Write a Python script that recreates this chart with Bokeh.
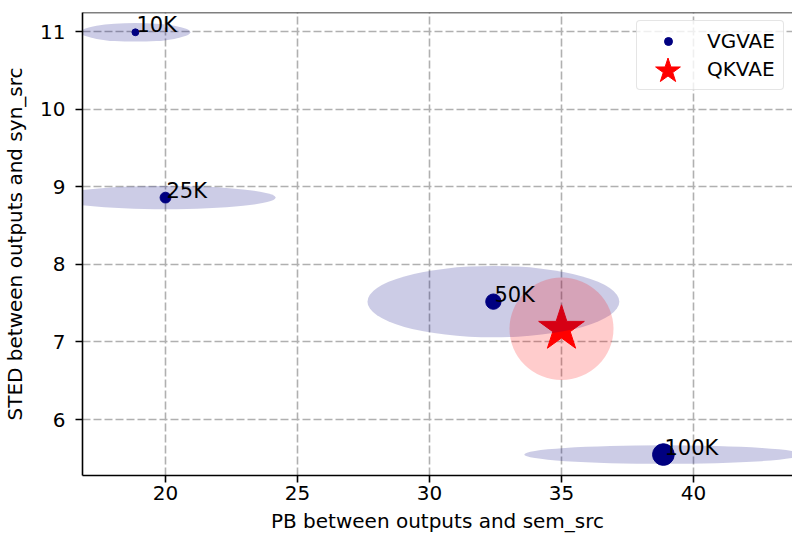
import numpy as np
from bokeh.plotting import figure
from bokeh.models import (Range1d, FixedTicker, Span, Legend, LegendItem,
                          ColumnDataSource)
from bokeh.core.properties import value
from bokeh.embed import file_html
from bokeh.resources import INLINE

# ---- data ----
labels = ["10K", "25K", "50K", "100K"]
train_k = [10, 25, 50, 100]
vg_pb = [18.86, 20.0, 32.42, 38.86]
vg_sted = [10.99, 8.86, 7.52, 5.55]
vg_pb_std = [2.08, 4.17, 4.77, 5.27]
vg_sted_std = [0.12, 0.15, 0.46, 0.12]

qk_pb = [35.0]
qk_sted = [7.17]
qk_pb_std = [1.97]
qk_sted_std = [0.66]

x_ticks = [20, 25, 30, 35, 40]
y_ticks = [6, 7, 8, 9, 10, 11]

FONT = "DejaVu Sans"
FS = "20px"

p = figure(width=792, height=538, output_backend="svg", toolbar_location=None,
           x_range=Range1d(16.856, 43.75), y_range=Range1d(5.28, 11.245),
           min_border_left=82, min_border_right=0, min_border_top=12,
           min_border_bottom=63)
p.outline_line_color = None
p.background_fill_color = "white"
p.border_fill_color = "white"

# grid
for g in (p.xgrid, p.ygrid):
    g.grid_line_color = "#b0b0b0"
    g.grid_line_dash = "8 3"
    g.grid_line_width = 1.6
p.xaxis.ticker = FixedTicker(ticks=x_ticks)
p.yaxis.ticker = FixedTicker(ticks=y_ticks)

for ax in (p.xaxis, p.yaxis):
    ax.axis_line_color = "black"
    ax.axis_line_width = 1.6
    ax.major_tick_line_color = "black"
    ax.major_tick_line_width = 1.6
    ax.major_tick_out = 7
    ax.major_tick_in = 0
    ax.minor_tick_line_color = None
    ax.major_label_text_font = FONT
    ax.major_label_text_font_size = FS
    ax.major_label_text_color = "black"
    ax.axis_label_text_font = FONT
    ax.axis_label_text_font_size = FS
    ax.axis_label_text_font_style = "normal"
    ax.axis_label_text_color = "black"

p.xaxis.axis_label = "PB between outputs and sem_src"
p.yaxis.axis_label = "STED between outputs and syn_src"
p.xaxis.major_label_standoff = 3
p.xaxis.axis_label_standoff = 6
p.yaxis.major_label_standoff = 10
p.yaxis.axis_label_standoff = 10

# top spine
p.add_layout(Span(location=11.245, dimension="width", line_color="black",
                  line_width=1.6))

vg = ColumnDataSource(dict(x=vg_pb, y=vg_sted, w=[2 * s for s in vg_pb_std],
                           h=[2 * s for s in vg_sted_std], label=labels,
                           size=[float(np.sqrt(4.7 * n)) for n in train_k]))
qk = ColumnDataSource(dict(x=qk_pb, y=qk_sted, w=[2 * s for s in qk_pb_std],
                           h=[2 * s for s in qk_sted_std]))

# QKVAE star
r_qk = p.scatter("x", "y", source=qk, marker="star", size=48, color="red")
# ellipses
p.ellipse("x", "y", width="w", height="h", source=vg, fill_color="navy",
          fill_alpha=0.2, line_color=None)
p.ellipse("x", "y", width="w", height="h", source=qk, fill_color="red",
          fill_alpha=0.2, line_color=None)
# VGVAE points
r_vg = p.scatter("x", "y", source=vg, marker="circle", size="size", color="navy")
p.text("x", "y", text="label", source=vg, text_font=value(FONT),
       text_font_size=value("21px"), text_baseline="alphabetic",
       text_align="left", text_color="black", x_offset=1, y_offset=-7)

# legend box (glyph marker size = 0.4 * min(glyph_width, glyph_height))
legend = Legend(items=[LegendItem(label="VGVAE", renderers=[r_vg]),
                       LegendItem(label="QKVAE", renderers=[r_qk])],
                location=(554, 385), padding=8, spacing=4, margin=0,
                glyph_width=46, glyph_height=20, label_height=24,
                label_standoff=16,
                label_text_font=FONT, label_text_font_size=FS,
                label_text_color="black",
                border_line_color="#cccccc", border_line_width=1.6,
                border_radius=4, background_fill_color="white",
                background_fill_alpha=0.8)
p.add_layout(legend)
# larger legend star drawn over the QKVAE entry
legend_star = Legend(items=[LegendItem(label=" ", renderers=[r_qk])],
                     location=(552.5, 372.5), padding=0, spacing=0, margin=0,
                     glyph_width=65, glyph_height=65, label_height=0,
                     label_width=0, label_standoff=0,
                     label_text_font_size="1px",
                     border_line_color=None, background_fill_color=None,
                     background_fill_alpha=0)
p.add_layout(legend_star)

open("out.html", "w").write(file_html(p, INLINE))
